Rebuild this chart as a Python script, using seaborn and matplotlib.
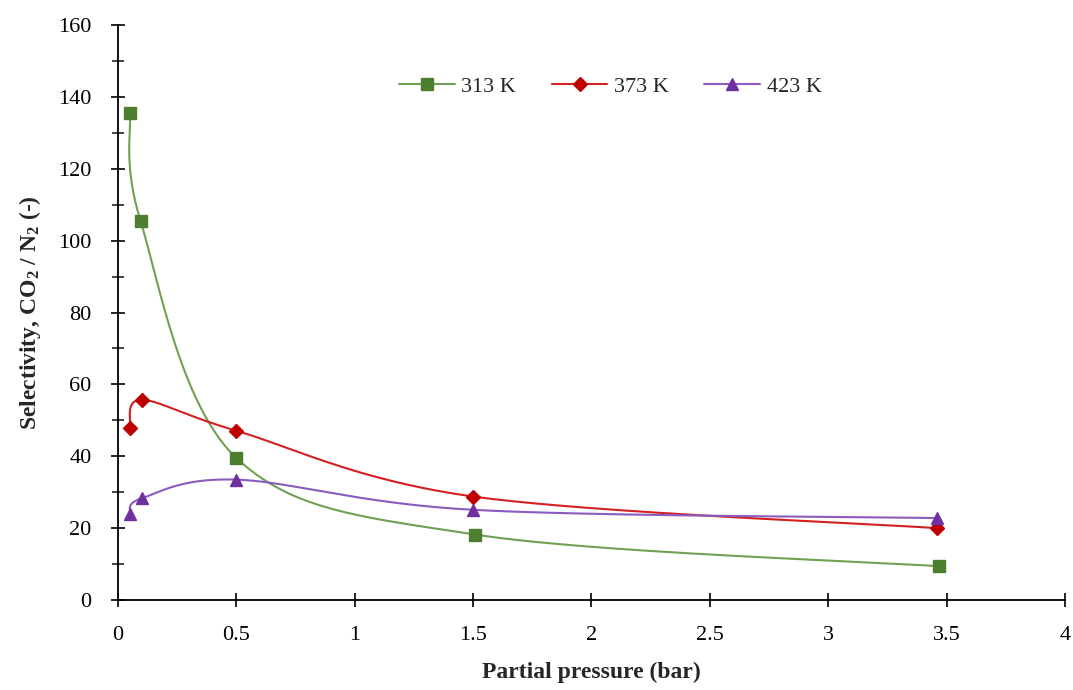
import numpy as np
import pandas as pd
import seaborn as sns
import matplotlib.pyplot as plt
from matplotlib.ticker import MultipleLocator

# data
pressure_313 = [0.05, 0.095, 0.5, 1.51, 3.47]
sel_313 = [135.5, 105.5, 39.5, 18.2, 9.4]
pressure_373 = [0.05, 0.1, 0.5, 1.5, 3.46]
sel_373 = [48.0, 55.7, 47.1, 28.8, 20.0]
pressure_423 = [0.05, 0.1, 0.5, 1.5, 3.46]
sel_423 = [24.0, 28.3, 33.5, 25.1, 22.8]

series = [
    ("313 K", pressure_313, sel_313, "#72a053", "#4e7f30", "s", 9),
    ("373 K", pressure_373, sel_373, "#d42020", "#c00000", "D", 7),
    ("423 K", pressure_423, sel_423, "#8a5cbf", "#7030a0", "^", 9),
]


def smooth_curve(x, y, n=60):
    """ Excel-like smoothed line: cubic Bezier segments through the points """
    p = np.column_stack([x, y]).astype(float)
    p = np.vstack([p[0], p, p[-1]])
    out = []
    t = np.linspace(0, 1, n)[:, None]
    for i in range(1, len(p) - 2):
        p0, p3 = p[i], p[i + 1]
        c1 = p0 + (p[i + 1] - p[i - 1]) / 6
        c2 = p3 - (p[i + 2] - p[i]) / 6
        seg = ((1 - t) ** 3) * p0 + 3 * ((1 - t) ** 2) * t * c1 + 3 * (1 - t) * t ** 2 * c2 + t ** 3 * p3
        out.append(seg)
    return np.vstack(out)


sns.set_style("ticks")
plt.rcParams['font.family'] = ['Liberation Serif', 'DejaVu Serif']
plt.rcParams['mathtext.fontset'] = 'custom'
plt.rcParams['mathtext.rm'] = 'Liberation Serif'
plt.rcParams['mathtext.bf'] = 'Liberation Serif:bold'

fig = plt.figure(figsize=(10.73, 6.9), dpi=100)
ax = fig.add_axes([0.110, 0.1304, 0.8825, 0.8334])

for label, px, py, lcol, mcol, mk, ms in series:
    curve = smooth_curve(px, py)
    sns.lineplot(x=curve[:, 0], y=curve[:, 1], ax=ax, color=lcol, lw=1.5, sort=False, estimator=None)
    ax.plot(px, py, linestyle="none", marker=mk, color=mcol, markersize=ms, zorder=3)
    ax.plot([], [], color=lcol, lw=1.5, marker=mk, markerfacecolor=mcol, markeredgecolor=mcol,
            markersize=ms, label=label)

ax.set_xlim(0, 4)
ax.set_ylim(0, 160)
ax.yaxis.set_major_locator(MultipleLocator(20))
ax.yaxis.set_minor_locator(MultipleLocator(10))
ax.set_xticks([0, 0.5, 1, 1.5, 2, 2.5, 3, 3.5, 4])
ax.set_xticklabels(["0", "0.5", "1", "1.5", "2", "2.5", "3", "3.5", "4"])

for side in ["top", "right"]:
    ax.spines[side].set_visible(False)
for side in ["left", "bottom"]:
    ax.spines[side].set_linewidth(1.3)
    ax.spines[side].set_color("black")

ax.tick_params(axis="both", which="major", direction="inout", length=10, width=1.2,
               labelsize=16, colors="black")
ax.tick_params(axis="x", which="major", pad=14)
ax.tick_params(axis="y", which="major", pad=14)
ax.tick_params(axis="y", which="minor", direction="inout", length=8, width=1.2)

ax.set_xlabel("Partial pressure (bar)", fontsize=17, fontweight="bold", labelpad=12)
ax.set_ylabel(r"Selectivity, CO$\mathbf{_2}$ / N$\mathbf{_2}$ (-)", fontsize=17,
              fontweight="bold", labelpad=11)

leg = ax.legend(loc="upper center", bbox_to_anchor=(0.52, 0.945), ncol=3, frameon=False,
                fontsize=16, handlelength=2.5, columnspacing=1.6, handletextpad=0.3)

fig.savefig("out.png", dpi=100, facecolor="white")
